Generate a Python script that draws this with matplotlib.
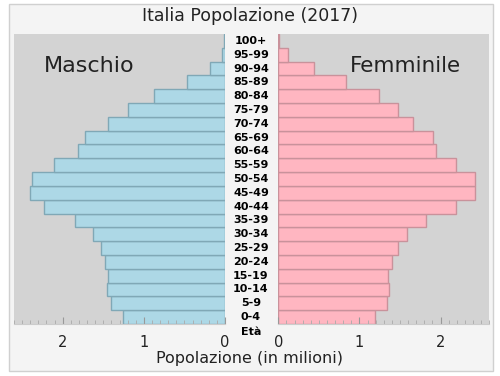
import matplotlib
matplotlib.use('Agg')
import matplotlib.pyplot as plt
from matplotlib.patches import Rectangle
from matplotlib.ticker import MultipleLocator


age_groups = ['0-4', '5-9', '10-14', '15-19', '20-24', '25-29', '30-34', '35-39',
              '40-44', '45-49', '50-54', '55-59', '60-64', '65-69', '70-74',
              '75-79', '80-84', '85-89', '90-94', '95-99', '100+']
male = [1.26, 1.41, 1.46, 1.44, 1.48, 1.53, 1.63, 1.85, 2.23, 2.40, 2.38,
        2.11, 1.81, 1.73, 1.44, 1.19, 0.88, 0.47, 0.19, 0.04, 0.01]
female = [1.19, 1.34, 1.37, 1.35, 1.40, 1.47, 1.58, 1.82, 2.19, 2.42, 2.42,
          2.19, 1.94, 1.91, 1.66, 1.48, 1.24, 0.84, 0.44, 0.12, 0.01]

title = 'Italia Popolazione (2017)'
xlabel = 'Popolazione (in milioni)'


fig = plt.figure(figsize=(5, 3.76), dpi=100, facecolor='white')
fig.patches.append(Rectangle((9 / 500, 1 - 371 / 376), 484 / 500, 367 / 376,
                             transform=fig.transFigure, facecolor='#f4f4f4',
                             edgecolor='#d0d0d0', linewidth=1, zorder=-1))

bottom = 1 - 324 / 376
height = 290 / 376
ax_m = fig.add_axes([14 / 500, bottom, 211 / 500, height])
ax_f = fig.add_axes([278.3 / 500, bottom, 211 / 500, height])

y = list(range(len(age_groups)))

ax_m.barh(y, male, height=1.0, color='#add8e6', edgecolor='#80a8b6', linewidth=1)
ax_f.barh(y, female, height=1.0, color='#ffb6c1', edgecolor='#c9929b', linewidth=1)

for ax in (ax_m, ax_f):
    ax.set_facecolor('#d3d3d3')
    ax.set_xlim(0, 2.6)
    ax.set_ylim(-0.5, len(age_groups) - 0.5)
    ax.set_yticks([])
    for s in ['top', 'left', 'right']:
        ax.spines[s].set_visible(False)
    ax.spines['bottom'].set_color('#cccccc')
    ax.xaxis.set_major_locator(MultipleLocator(1))
    ax.xaxis.set_minor_locator(MultipleLocator(0.1))
    ax.tick_params(axis='x', which='major', direction='in', length=5,
                   color='#999999', labelsize=10.5, pad=8, labelcolor='#222222')
    ax.tick_params(axis='x', which='minor', direction='in', length=3,
                   color='#aaaaaa')
ax_m.invert_xaxis()

fig.text(0.5, 1 - 16 / 376, title, ha='center', va='center', fontsize=12.5,
         color='#222222')
fig.text(0.5, 1 - 358 / 376, xlabel, ha='center', va='center', fontsize=11.5,
         color='#222222')

ax_m.text(0.14, 0.89, 'Maschio', transform=ax_m.transAxes, ha='left',
          va='center', fontsize=16, color='#222222')
ax_f.text(0.34, 0.89, 'Femminile', transform=ax_f.transAxes, ha='left',
          va='center', fontsize=15.5, color='#222222')

# etichette delle fasce d'eta al centro
mid = (fig.transFigure, ax_m.transData)
for i, lab in enumerate(age_groups):
    ax_m.annotate(lab, xy=(251 / 500, i), xycoords=mid, ha='center',
                  va='center', fontsize=8, fontweight='bold',
                  annotation_clip=False)
ax_m.annotate('Età', xy=(251 / 500, -1.1), xycoords=mid, ha='center',
              va='center', fontsize=8, fontweight='bold',
              annotation_clip=False)

fig.savefig('out.png', dpi=100, facecolor=fig.get_facecolor())
